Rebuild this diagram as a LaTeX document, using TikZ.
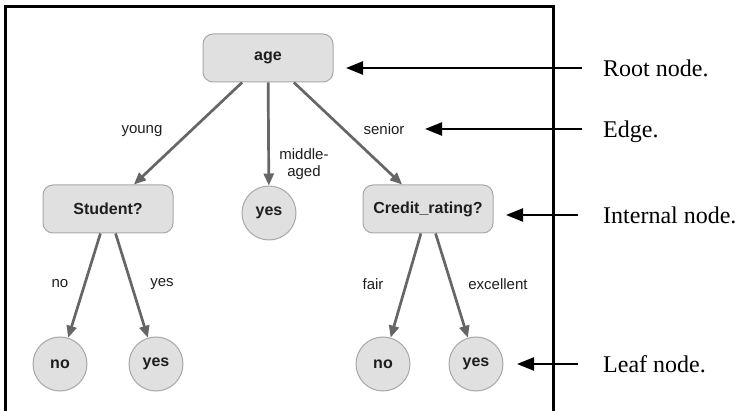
\documentclass[tikz,border=0pt]{standalone}
\usepackage{fontspec}
\setmainfont{Liberation Serif}
\setsansfont{Liberation Sans}
\usetikzlibrary{arrows.meta}
\definecolor{boxfill}{HTML}{E0E0E0}
\definecolor{boxline}{HTML}{A8A8A8}
\definecolor{edgegray}{HTML}{666666}
\definecolor{textgray}{HTML}{1E1E1E}
\def\boxw{130pt}
\def\boxh{48pt}
\def\leafsize{54pt}
\def\leafrow{364}

\begin{document}
\begin{tikzpicture}[x=1pt,y=-1pt,
  decision/.style={draw=boxline,fill=boxfill,line width=1pt,rounded corners=10pt,
    minimum width=\boxw,minimum height=\boxh,text=textgray,
    font=\sffamily\bfseries\fontsize{16}{19}\selectfont},
  leaf/.style={circle,draw=boxline,fill=boxfill,line width=1pt,inner sep=0pt,
    minimum size=\leafsize,text=textgray,
    font=\sffamily\bfseries\fontsize{16}{19}\selectfont},
  branch/.style={draw=edgegray,line width=2.7pt,-{Triangle[length=12pt,width=10pt]}},
  cond/.style={text=textgray,align=center,inner sep=0pt,
    font=\sffamily\fontsize{15}{17}\selectfont},
  pointer/.style={line width=2.2pt,shorten <=21pt,-{Triangle[length=17pt,width=13pt]}},
  tag/.style={anchor=west,inner sep=0pt,text height=17pt,text depth=0pt,
    font=\fontsize{24}{28}\selectfont}]
\useasboundingbox (0,0) rectangle (740,411);
% the frame round the tree
\draw[line width=3pt] (5,420) -- (5,7) -- (553,7) -- (553,420);
% the tree
\node[decision] (age) at (268,58) {age};
\node[decision] (student) at (108,209) {Student?};
\node[leaf] (middle) at (269,213) {yes};
\node[decision] (credit) at (428,209) {Credit\_rating?};
\node[leaf] (studno) at (60,\leafrow) {no};
\node[leaf] (studyes) at (156,\leafrow) {yes};
\node[leaf] (creditno) at (383,\leafrow) {no};
\node[leaf] (credityes) at (476,\leafrow) {yes};
% the branches
\draw[branch] (age) -- (student);
\draw[branch] (age) -- (middle);
\draw[branch] (age) -- (credit);
\draw[branch] (student) -- (studno);
\draw[branch] (student) -- (studyes);
\draw[branch] (credit) -- (creditno);
\draw[branch] (credit) -- (credityes);
% the branch conditions
\node[cond] (young) at (142,131) {young};
\node[cond] (midaged) at (304,164) {middle-\\aged};
\node[cond] (senior) at (384,129) {senior};
\node[cond] (no) at (60,284) {no};
\node[cond] (yes) at (162,284) {yes};
\node[cond] (fair) at (373,284) {fair};
\node[cond] (excellent) at (498,284) {excellent};
% the notes on the right
\node[tag] (roottag) at (603,68) {Root node.};
\node[tag] (edgetag) at (603,129) {Edge.};
\node[tag] (innertag) at (603,215) {Internal node.};
\node[tag] (leaftag) at (603,364) {Leaf node.};
\coordinate (rootptr) at (346,68);
\coordinate (edgeptr) at (425,129);
\coordinate (innerptr) at (506,215);
\coordinate (leafptr) at (517,364);
\draw[pointer] (roottag.west) -- (rootptr);
\draw[pointer] (edgetag.west) -- (edgeptr);
\draw[pointer,shorten <=25pt] (innertag.west) -- (innerptr);
\draw[pointer,shorten <=25pt] (leaftag.west) -- (leafptr);
\end{tikzpicture}
\end{document}
